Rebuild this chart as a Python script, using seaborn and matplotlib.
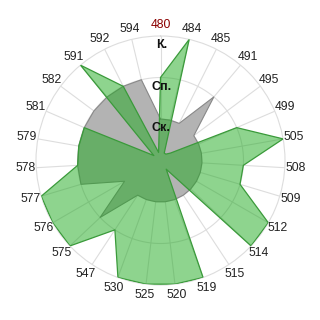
import numpy as np
import matplotlib
matplotlib.use("Agg")
import matplotlib.pyplot as plt
import seaborn as sns
import pandas as pd

categories = ["480", "484", "485", "491", "495", "499", "505", "508", "509", "512",
              "514", "515", "519", "520", "525", "530", "547", "575", "576", "577",
              "578", "579", "581", "582", "591", "592", "594"]
green_values = [2.0, 3.0, 0.2, 0.2, 0.3, 2.0, 3.0, 2.0, 2.0, 3.0,
                3.0, 0.25, 3.0, 3.0, 3.0, 3.0, 2.0, 3.0, 3.0, 3.0,
                2.0, 2.0, 2.0, 0.2, 3.0, 2.0, 0.2]
gray_values = [1.0, 1.0, 1.0, 2.0, 1.0, 1.0, 1.0, 1.0, 1.0, 1.0,
               1.0, 1.0, 1.0, 1.0, 1.0, 1.0, 1.0, 2.0, 1.0, 2.0,
               2.0, 2.0, 2.0, 2.0, 2.0, 2.0, 2.0]
level_values = [1, 2, 3]
level_labels = ["Ск.", "Сп.", "К."]
highlight = "480"

sns.set_style("white")
plt.rcParams['font.family'] = ['Liberation Sans', 'DejaVu Sans']

fig = plt.figure(figsize=(3.2, 3.2), dpi=100)
R_px = 124.5
cx, cy = 160.5, 160.5
ax = fig.add_axes([(cx - R_px) / 320, (320 - cy - R_px) / 320, 2 * R_px / 320, 2 * R_px / 320],
                  projection='polar')
ax.set_theta_zero_location('N')
ax.set_theta_direction(-1)

n = len(categories)
theta = np.arange(n) * 2 * np.pi / n
tclosed = np.append(theta, theta[0])

df = pd.DataFrame({
    "theta": np.concatenate([tclosed, tclosed]),
    "value": np.concatenate([np.append(gray_values, gray_values[0]),
                             np.append(green_values, green_values[0])]),
    "series": ["gray"] * (n + 1) + ["green"] * (n + 1),
})

grid_c = "#dddddd"
ax.set_ylim(0, 3)
ax.set_yticks([])
ax.set_xticks([])
ax.grid(False)
for t in theta:
    ax.plot([t, t], [0, 3], color=grid_c, lw=0.8, zorder=0)
tt = np.linspace(0, 2 * np.pi, 400)
for lv in level_values[:-1]:
    ax.plot(tt, np.full_like(tt, lv), color=grid_c, lw=0.8, zorder=0)
ax.spines['polar'].set_color(grid_c)
ax.spines['polar'].set_linewidth(0.8)

g = df[df.series == "gray"]
ax.fill(g.theta, g.value, color="#b3b3b3", zorder=2, lw=0)
sns.lineplot(data=g, x="theta", y="value", sort=False, color="#888888", lw=0.8, ax=ax,
             legend=False, zorder=3, estimator=None)
gr = df[df.series == "green"]
ax.fill(gr.theta, gr.value, color="#1faa1f", alpha=0.5, zorder=4, lw=0)
sns.lineplot(data=gr, x="theta", y="value", sort=False, color="#3a9a3a", lw=0.9, ax=ax,
             legend=False, zorder=5, estimator=None)
ax.set_xlabel("")
ax.set_ylabel("")

lab_r = 135.5 / R_px * 3
for t, c in zip(theta, categories):
    ax.text(t, lab_r, c, ha="center", va="center", fontsize=8.7,
            color="#8b0000" if c == highlight else "#222222", zorder=6, clip_on=False)

for lv, lab in zip(level_values, level_labels):
    ax.text(0.01, lv - 0.22, lab, ha="center", va="center", fontsize=9,
            fontweight="bold", color="#111111", zorder=7)

ax.set_facecolor("white")
fig.savefig("out.png", dpi=100, facecolor="white")
